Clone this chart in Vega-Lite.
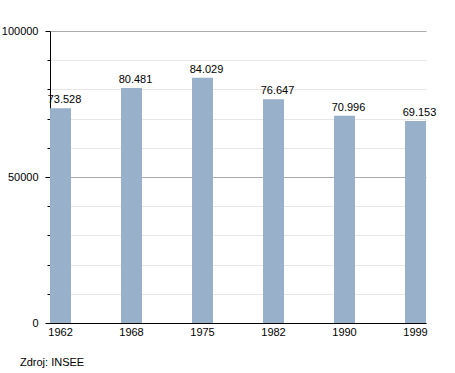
{
  "$schema": "https://vega.github.io/schema/vega-lite/v6.json",
  "width": 376,
  "height": 292,
  "autosize": {"type": "none"},
  "padding": {"left": 50, "top": 31, "right": 29, "bottom": 50},
  "background": "white",
  "config": {
    "font": "Liberation Sans",
    "view": {"stroke": null},
    "locale": {"number": {"decimal": ",", "thousands": ".", "grouping": [3], "currency": ["", ""]}}
  },
  "title": {
    "text": "Zdroj: INSEE",
    "orient": "bottom",
    "anchor": "start",
    "frame": "group",
    "dx": -30,
    "offset": 20,
    "fontSize": 11,
    "fontWeight": "normal",
    "color": "#000"
  },
  "data": {
    "values": [
      {"year": "1962", "pop": 73528},
      {"year": "1968", "pop": 80481},
      {"year": "1975", "pop": 84029},
      {"year": "1982", "pop": 76647},
      {"year": "1990", "pop": 70996},
      {"year": "1999", "pop": 69153}
    ]
  },
  "encoding": {
    "x": {
      "field": "year",
      "type": "ordinal",
      "sort": null,
      "scale": {"paddingInner": 0.704, "paddingOuter": 0},
      "axis": {
        "title": null,
        "labelAngle": 0,
        "labelFontSize": 11,
        "labelColor": "#000",
        "labelPadding": 3,
        "ticks": false,
        "domainColor": "#000",
        "domainWidth": 1
      }
    },
    "y": {
      "field": "pop",
      "type": "quantitative",
      "scale": {"domain": [0, 100000], "nice": false},
      "axis": {
        "title": null,
        "values": [0, 10000, 20000, 30000, 40000, 50000, 60000, 70000, 80000, 90000, 100000],
        "format": "d",
        "labelExpr": "datum.value % 50000 === 0 ? datum.label : ''",
        "labelFontSize": 11,
        "labelColor": "#000",
        "labelPadding": 7,
        "domainColor": "#000",
        "tickColor": "#000",
        "tickSize": {"condition": {"test": "datum.value % 50000 === 0", "value": 5}, "value": 3},
        "gridColor": {"condition": {"test": "datum.value % 50000 === 0", "value": "#ababab"}, "value": "#e6e6e6"},
        "grid": true
      }
    }
  },
  "layer": [
    {"mark": {"type": "bar", "color": "#98b0c9"}},
    {
      "mark": {"type": "text", "baseline": "bottom", "dx": 4, "dy": -3, "fontSize": 11, "color": "#000"},
      "encoding": {"text": {"field": "pop", "type": "quantitative", "format": ",d"}}
    }
  ]
}
